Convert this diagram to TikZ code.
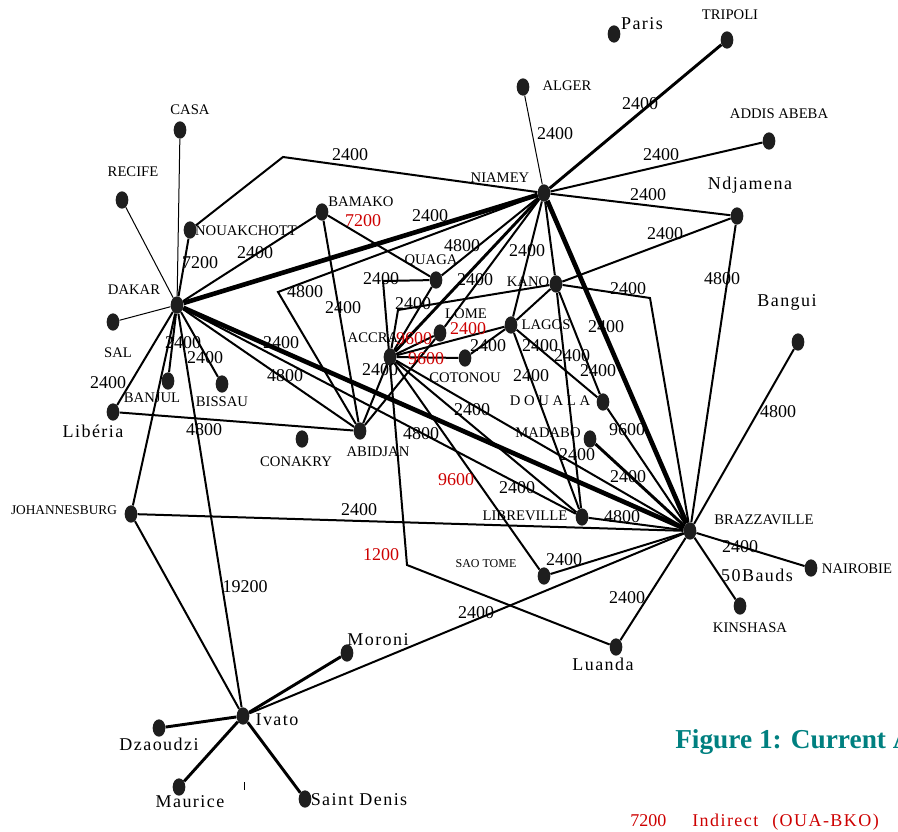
\documentclass[tikz,border=0pt]{standalone}
\usepackage{fontspec}
\setmainfont{Liberation Serif}
\newfontfamily\spaced[LetterSpace=8]{Liberation Serif}
\newfontfamily\vwide[LetterSpace=25]{Liberation Serif}
\usetikzlibrary{shapes.geometric}
\definecolor{dotc}{RGB}{30,30,30}
\definecolor{redl}{RGB}{205,0,0}
\definecolor{teal1}{RGB}{0,128,128}
\pgfdeclarelayer{bg}
\pgfsetlayers{bg,main}
\begin{document}
\begin{tikzpicture}[x=0.75pt,y=-0.75pt,
  dot/.style={ellipse,fill=dotc,inner sep=0pt,minimum width=9.5pt,minimum height=13pt},
  ctext/.style={font=\fontsize{11}{13}\selectfont,inner sep=0pt},
  ctextsm/.style={font=\fontsize{9}{11}\selectfont,inner sep=0pt},
  mtext/.style={font=\spaced\fontsize{13.5}{15}\selectfont,inner sep=0pt},
  num/.style={font=\fontsize{13.5}{15}\selectfont,inner sep=0pt},
  rnum/.style={num,text=redl},
  lnorm/.style={line width=1.5pt},
  lthin/.style={line width=0.75pt},
  lthick/.style={line width=3.5pt},
  lmed/.style={line width=2.2pt}]
\useasboundingbox (0,0) rectangle (898,831);
\clip (0,0) rectangle (898,831);

% cities
\node[dot] (paris) at (614,34) {};
\node[dot] (tripoli) at (727,40) {};
\node[dot] (alger) at (523,87) {};
\node[dot] (addis) at (769,141) {};
\node[dot] (niamey) at (544,193) {};
\node[dot] (ndjamena) at (737,216) {};
\node[dot] (casa) at (180,130) {};
\node[dot] (recife) at (122,200) {};
\node[dot] (nouak) at (190,230) {};
\node[dot] (bamako) at (322,212) {};
\node[dot] (dakar) at (177,305) {};
\node[dot] (quaga) at (436,280) {};
\node[dot] (kano) at (556,284) {};
\node[dot] (lome) at (440,333) {};
\node[dot] (lagos) at (511,325) {};
\node[dot] (accra) at (390,357) {};
\node[dot] (cotonou) at (465,358) {};
\node[dot] (sal) at (113,322) {};
\node[dot] (banjul) at (168,381) {};
\node[dot] (bissau) at (222,384) {};
\node[dot] (liberia) at (113,412) {};
\node[dot] (conakry) at (302,439) {};
\node[dot] (abidjan) at (360,431) {};
\node[dot] (douala) at (603,402) {};
\node[dot] (malabo) at (590,439) {};
\node[dot] (bangui) at (798,342) {};
\node[dot] (brazza) at (690,531) {};
\node[dot] (libreville) at (582,517) {};
\node[dot] (johannes) at (131,514) {};
\node[dot] (saotome) at (544,576) {};
\node[dot] (nairobie) at (811,568) {};
\node[dot] (kinshasa) at (740,606) {};
\node[dot] (luanda) at (616,647) {};
\node[dot] (moroni) at (347,653) {};
\node[dot] (ivato) at (243,716) {};
\node[dot] (dzaoudzi) at (159,728) {};
\node[dot] (maurice) at (179,787) {};
\node[dot] (stdenis) at (305,799) {};

\coordinate (cnk) at (283,157);
\coordinate (cab) at (278,292);
\coordinate (cq1) at (383,281);
\coordinate (cq2) at (407,565);
\coordinate (cka) at (398,310);
\coordinate (ckb) at (650,298);

\begin{pgfonlayer}{bg}
% thin
\draw[lthin] (dakar) -- (casa);
\draw[lthin] (dakar) -- (recife);
\draw[lthin] (dakar) -- (sal);
\draw[lthin] (niamey) -- (alger);
% thick
\draw[lthick] (dakar) -- (niamey);
\draw[lthick] (dakar) -- (brazza);
\draw[lthick] (niamey) -- (brazza);
% medium
\draw[lmed] (niamey) -- (tripoli);
\draw[lmed] (niamey) -- (accra);
\draw[lmed] (malabo) -- (brazza);
\draw[lmed] (ivato) -- (moroni);
\draw[lmed] (ivato) -- (dzaoudzi);
\draw[lmed] (ivato) -- (maurice);
\draw[lmed] (ivato) -- (stdenis);
% normal
\draw[lnorm] (niamey) -- (addis);
\draw[lnorm] (niamey) -- (ndjamena);
\draw[lnorm] (niamey) -- (cnk) -- (nouak);
\draw[lnorm] (niamey) -- (cab) -- (abidjan);
\draw[lnorm] (niamey) -- (quaga);
\draw[lnorm] (niamey) -- (lome);
\draw[lnorm] (niamey) -- (lagos);
\draw[lnorm] (niamey) -- (kano);
\draw[lnorm] (kano) -- (ndjamena);
\draw[lnorm] (kano) -- (ckb) -- (brazza);
\draw[lnorm] (ndjamena) -- (brazza);
\draw[lnorm] (bangui) -- (brazza);
\draw[lnorm] (kano) -- (lagos);
\draw[lnorm] (kano) -- (cka) -- (accra);
\draw[lnorm] (kano) -- (douala);
\draw[lnorm] (kano) -- (libreville);
\draw[lnorm] (lagos) -- (douala);
\draw[lnorm] (lagos) -- (libreville);
\draw[lnorm] (accra) -- (lagos);
\draw[lnorm] (accra) -- (lome);
\draw[lnorm] (accra) -- (cotonou);
\draw[lnorm] (accra) -- (quaga);
\draw[lnorm] (accra) -- (abidjan);
\draw[lnorm] (accra) -- (saotome);
\draw[lnorm] (accra) -- (libreville);
\draw[lnorm] (accra) -- (brazza);
\draw[lnorm] (lome) -- (abidjan);
\draw[lnorm] (cotonou) -- (lagos);
\draw[lnorm] (dakar) -- (nouak);
\draw[lnorm] (dakar) -- (bamako);
\draw[lnorm] (bamako) -- (quaga);
\draw[lnorm] (bamako) -- (abidjan);
\draw[lnorm] (quaga) -- (cq1) -- (cq2) -- (luanda);
\draw[lnorm] (dakar) -- (abidjan);
\draw[lnorm] (dakar) -- (libreville);
\draw[lnorm] (dakar) -- (liberia);
\draw[lnorm] (dakar) -- (banjul);
\draw[lnorm] (dakar) -- (bissau);
\draw[lnorm] (dakar) -- (johannes);
\draw[lnorm] (dakar) -- (ivato);
\draw[lnorm] (liberia) -- (abidjan);
\draw[lnorm] (johannes) -- (brazza);
\draw[lnorm] (johannes) -- (ivato);
\draw[lnorm] (ivato) -- (brazza);
\draw[lnorm] (douala) -- (brazza);
\draw[lnorm] (libreville) -- (brazza);
\draw[lnorm] (saotome) -- (brazza);
\draw[lnorm] (luanda) -- (brazza);
\draw[lnorm] (brazza) -- (nairobie);
\draw[lnorm] (brazza) -- (kinshasa);
\end{pgfonlayer}

% small tick
\draw[line width=0.6pt] (244,782) -- (244,790);

% city labels
\node[mtext] (tparis) at (642,24) {Paris};
\node[ctext] (ttripoli) at (730,15) {TRIPOLI};
\node[ctext] (talger) at (567,86) {ALGER};
\node[ctext] (taddis) at (779,114) {ADDIS ABEBA};
\node[ctext] (tniamey) at (500,178) {NIAMEY};
\node[mtext] (tndj) at (750,185) {Ndjamena};
\node[ctext] (tcasa) at (190,110) {CASA};
\node[ctext] (trecife) at (133,172) {RECIFE};
\node[ctext] (tnouak) at (246,231) {NOUAKCHOTT};
\node[ctext] (tbamako) at (361,202) {BAMAKO};
\node[ctext] (tdakar) at (134,290) {DAKAR};
\node[ctext] (tquaga) at (431,261) {QUAGA};
\node[ctext] (tkano) at (528,282) {KANO};
\node[ctext] (tlome) at (466,314) {LOME};
\node[ctext] (tlagos) at (546,325) {LAGOS};
\node[ctext] (taccra) at (373,338) {ACCRA};
\node[ctext] (tcotonou) at (465,378) {COTONOU};
\node[ctext] (tsal) at (118,353) {SAL};
\node[ctext] (tbanjul) at (152,398) {BANJUL};
\node[ctext] (tbissau) at (222,402) {BISSAU};
\node[mtext] (tliberia) at (93,431) {Libéria};
\node[ctext] (tconakry) at (296,462) {CONAKRY};
\node[ctext] (tabidjan) at (378,452) {ABIDJAN};
\node[font=\vwide\fontsize{11}{13}\selectfont,inner sep=0pt] (tdouala) at (550,401) {DOUALA};
\node[ctext] (tmalabo) at (548,433) {MADABO};
\node[mtext] (tbangui) at (787,302) {Bangui};
\node[ctext] (tbrazza) at (764,520) {BRAZZAVILLE};
\node[ctext] (tlibre) at (525,516) {LIBREVILLE};
\node[font=\fontsize{10}{12}\selectfont,inner sep=0pt] (tjohan) at (64,510) {JOHANNESBURG};
\node[ctextsm] (tsao) at (486,564) {SAO TOME};
\node[ctext] (tnairobie) at (857,569) {NAIROBIE};
\node[mtext] (tbauds) at (757,575) {50Bauds};
\node[ctext] (tkinshasa) at (750,628) {KINSHASA};
\node[mtext] (tluanda) at (603,664) {Luanda};
\node[mtext] (tmoroni) at (378,640) {Moroni};
\node[mtext] (tivato) at (277,720) {Ivato};
\node[mtext] (tdzaoudzi) at (159,744) {Dzaoudzi};
\node[mtext] (tmaurice) at (190,802) {Maurice};
\node[mtext] (tstdenis) at (359,800) {Saint Denis};

% speed labels
\node[num] (s1) at (555,134) {2400};
\node[num] (s2) at (640,104) {2400};
\node[num] (s3) at (661,155) {2400};
\node[num] (s4) at (648,195) {2400};
\node[num] (s5) at (350,155) {2400};
\node[num] (s6) at (430,216) {2400};
\node[num] (s7) at (305,292) {4800};
\node[num] (s8) at (462,246) {4800};
\node[num] (s9) at (527,251) {2400};
\node[num] (s10) at (475,280) {2400};
\node[num] (s11) at (381,279) {2400};
\node[num] (s12) at (413,304) {2400};
\node[num] (s13) at (343,308) {2400};
\node[rnum] (s14) at (363,221) {7200};
\node[num] (s15) at (255,253) {2400};
\node[num] (s16) at (200,263) {7200};
\node[num] (s17) at (665,234) {2400};
\node[num] (s18) at (628,289) {2400};
\node[num] (s19) at (722,279) {4800};
\node[num] (s20) at (778,412) {4800};
\node[rnum] (s21) at (414,339) {9600};
\node[rnum] (s22) at (426,359) {9600};
\node[rnum] (s23) at (468,329) {2400};
\node[num] (s24) at (380,370) {2400};
\node[num] (s25) at (488,346) {2400};
\node[num] (s26) at (540,346) {2400};
\node[num] (s27) at (572,356) {2400};
\node[num] (s28) at (531,376) {2400};
\node[num] (s29) at (598,371) {2400};
\node[num] (s30) at (606,327) {2400};
\node[num] (s31) at (472,410) {2400};
\node[num] (s32) at (421,434) {4800};
\node[num] (s33) at (627,430) {9600};
\node[num] (s34) at (577,455) {2400};
\node[num] (s35) at (628,477) {2400};
\node[rnum] (s36) at (456,480) {9600};
\node[num] (s37) at (517,488) {2400};
\node[num] (s38) at (622,517) {4800};
\node[num] (s39) at (564,560) {2400};
\node[num] (s40) at (359,510) {2400};
\node[rnum] (s41) at (381,555) {1200};
\node[num] (s42) at (476,613) {2400};
\node[num] (s43) at (627,598) {2400};
\node[num] (s44) at (740,547) {2400};
\node[num] (s45) at (108,383) {2400};
\node[num] (s46) at (204,430) {4800};
\node[num] (s47) at (183,343) {2400};
\node[num] (s48) at (205,358) {2400};
\node[num] (s49) at (281,343) {2400};
\node[num] (s50) at (285,376) {4800};
\node[num] (s51) at (245,587) {19200};

% title and legend
\node[anchor=base west,font=\bfseries\fontsize{20.5}{24}\selectfont,text=teal1,inner sep=0pt] (title) at (675,748) {Figure 1: Current A};
\node[anchor=base west,num,text=redl] (lg1) at (630,826) {7200};
\node[anchor=base west,font=\spaced\fontsize{13.5}{15}\selectfont,inner sep=0pt,text=redl] (lg2) at (692,826) {Indirect};
\node[anchor=base west,font=\spaced\fontsize{13.5}{15}\selectfont,inner sep=0pt,text=redl] (lg3) at (772,826) {(OUA-BKO)};
\end{tikzpicture}
\end{document}
